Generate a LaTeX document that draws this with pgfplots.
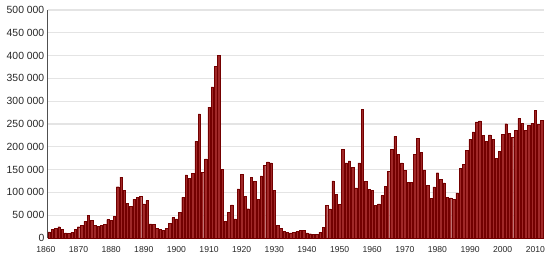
\documentclass[border=0pt]{standalone}
\usepackage{fontspec}
\setmainfont{Liberation Sans}
\usepackage{pgfplots}
\pgfplotsset{compat=1.18}
\definecolor{barfill}{RGB}{160,40,40}
\definecolor{baredge}{RGB}{115,0,0}
\definecolor{gridc}{RGB}{228,228,228}
\definecolor{axisc}{RGB}{80,80,80}
\begin{document}
\begin{tikzpicture}
\begin{axis}[
  scale only axis,
  width=495.8bp, height=228bp,
  xmin=1860.55, xmax=2012.5,
  ymin=0, ymax=500000,
  axis x line*=bottom, axis y line*=left,
  axis line style={-},
  x axis line style={black, line width=0.9bp},
  y axis line style={axisc, line width=1.4bp},
  xtick={1870,1880,...,2010},
  ytick={0,50000,...,500000},
  major tick length=0pt,
  ymajorgrids, grid style={gridc, line width=1.3bp},
  scaled ticks=false,
  /pgf/number format/.cd, fixed, 1000 sep={\ }, assume math mode=true,
  /pgfplots/.cd,
  yticklabel style={font=\fontsize{10.4bp}{12bp}\selectfont, text=black!85, inner sep=0pt, xshift=-3.2bp},
  xticklabel style={font=\fontsize{8.6bp}{10bp}\selectfont, text=black!85, inner sep=0pt, yshift=-8.5bp},
  xticklabel={\pgfmathprintnumber[fixed,1000 sep={}]{\tick}},
  ybar, bar width=2.4bp,
  clip=false,
]
\addplot[draw=baredge, fill=barfill, line width=0.4bp] coordinates {
(1861,13589)(1862,18294)(1863,21000)(1864,24779)(1865,18958)(1866,11427)(1867,10666)(1868,12765)(1869,18630)(1870,24706)
(1871,27773)(1872,36578)(1873,50050)(1874,39373)(1875,27382)(1876,25633)(1877,27082)(1878,29807)(1879,40492)(1880,38505)
(1881,47991)(1882,112458)(1883,133624)(1884,103824)(1885,76169)(1886,69152)(1887,84526)(1888,88766)(1889,91600)(1890,75067)
(1891,82165)(1892,30996)(1893,29633)(1894,20829)(1895,18790)(1896,16835)(1897,21716)(1898,31900)(1899,44543)(1900,41681)
(1901,55747)(1902,89102)(1903,138660)(1904,131252)(1905,141465)(1906,211653)(1907,272409)(1908,143326)(1909,173694)(1910,286839)
(1911,331288)(1912,375756)(1913,400870)(1914,150484)(1915,36665)(1916,55914)(1917,72910)(1918,41845)(1919,107698)(1920,138824)
(1921,91728)(1922,64224)(1923,133729)(1924,124164)(1925,84907)(1926,135982)(1927,158886)(1928,166783)(1929,164993)(1930,104806)
(1931,27530)(1932,20591)(1933,14382)(1934,12476)(1935,11277)(1936,11643)(1937,15101)(1938,17244)(1939,16994)(1940,11324)
(1941,9329)(1942,7576)(1943,8504)(1944,12801)(1945,22722)(1946,71719)(1947,64127)(1948,125414)(1949,95217)(1950,73912)
(1951,194391)(1952,164498)(1953,168868)(1954,154227)(1955,109946)(1956,164857)(1957,282164)(1958,124851)(1959,106928)(1960,104111)
(1961,71698)(1962,74586)(1963,93151)(1964,112606)(1965,146758)(1966,194743)(1967,222876)(1968,183974)(1969,164531)(1970,147713)
(1971,121900)(1972,122006)(1973,184200)(1974,218465)(1975,187881)(1976,149429)(1977,114914)(1978,86313)(1979,112093)(1980,143117)
(1981,128618)(1982,121147)(1983,89157)(1984,88239)(1985,84302)(1986,99219)(1987,152098)(1988,161929)(1989,191550)(1990,216452)
(1991,232744)(1992,254817)(1993,256641)(1994,224364)(1995,212504)(1996,226073)(1997,216038)(1998,174198)(1999,189954)(2000,227458)
(2001,250639)(2002,229048)(2003,221349)(2004,235823)(2005,262242)(2006,251640)(2007,236753)(2008,247246)(2009,252174)(2010,280691)
(2011,248748)(2012,257887)
};
\node[anchor=north, inner sep=0pt, font=\fontsize{8.6bp}{10bp}\selectfont, text=black!85] at ([yshift=-8.5bp]axis cs:1860,0) {1860};
\end{axis}
\path ([shift={(-47.7bp,-19bp)}]current axis.south west) rectangle ([shift={(6.5bp,10bp)}]current axis.north east);
\end{tikzpicture}
\end{document}
